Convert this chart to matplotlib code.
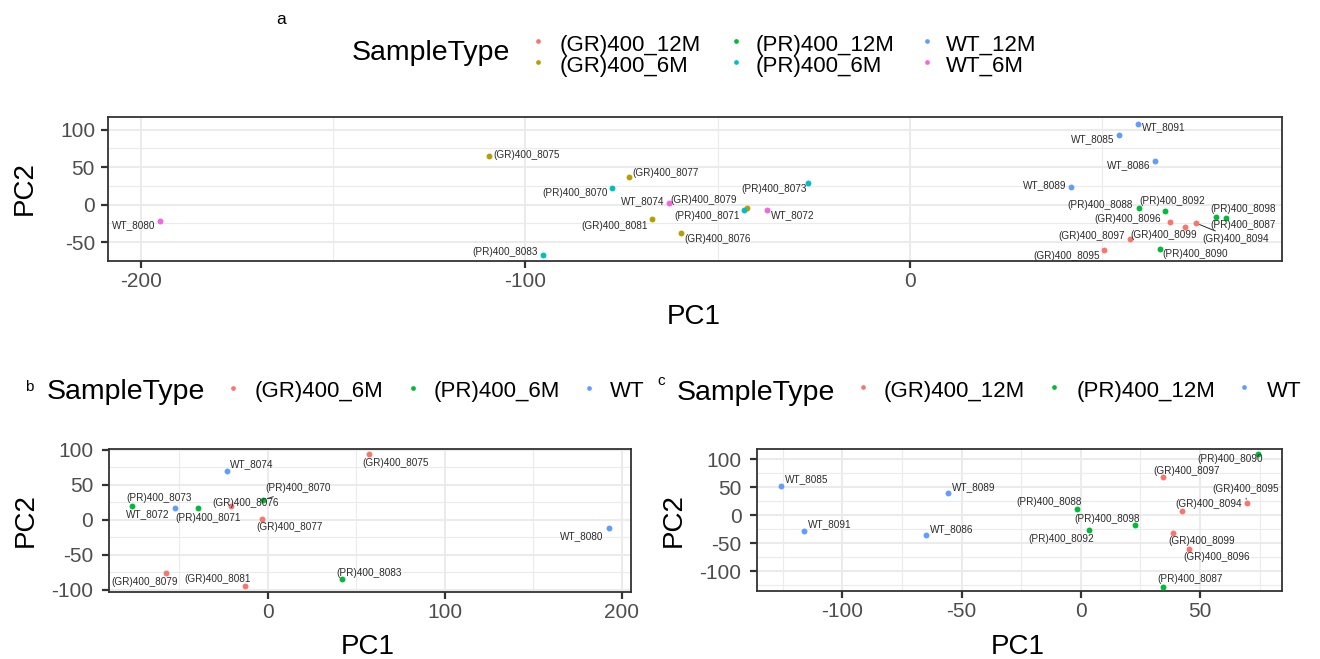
import matplotlib
matplotlib.use('Agg')
import matplotlib.pyplot as plt
from matplotlib.lines import Line2D
from matplotlib.ticker import MultipleLocator

plt.rcParams['font.family'] = ['Liberation Sans', 'DejaVu Sans']
plt.rcParams['axes.unicode_minus'] = False

W, H = 1320, 659

# ---------------- Panel a data ----------------
a_names = ['WT_8080', '(GR)400_8075', '(PR)400_8083', '(PR)400_8070', '(GR)400_8077',
           '(GR)400_8081', 'WT_8074', '(GR)400_8076', '(PR)400_8071', '(GR)400_8079',
           'WT_8072', '(PR)400_8073', 'WT_8091', 'WT_8085', 'WT_8086', 'WT_8089',
           '(PR)400_8088', '(PR)400_8092', '(PR)400_8098', '(PR)400_8087',
           '(GR)400_8096', '(GR)400_8099', '(GR)400_8094', '(GR)400_8097',
           '(GR)400_8095', '(PR)400_8090']
a_pc1 = [-194.9, -109.5, -95.5, -77.4, -73.1, -67.0, -62.6, -59.4, -43.1, -42.4,
         -37.2, -26.6, 59.3, 54.4, 63.8, 42.0, 59.5, 66.4, 79.5, 82.1,
         67.5, 71.6, 74.3, 57.1, 50.4, 64.9]
a_pc2 = [-21.3, 65.0, -67.5, 22.3, 36.9, -19.5, 2.3, -37.7, -7.0, -4.0,
         -7.0, 28.9, 107.6, 92.9, 57.8, 23.2, -4.4, -8.4, -16.0, -18.2,
         -23.1, -29.3, -24.4, -45.7, -60.4, -59.0]
a_group = ['WT_6M', '(GR)400_6M', '(PR)400_6M', '(PR)400_6M', '(GR)400_6M',
           '(GR)400_6M', 'WT_6M', '(GR)400_6M', '(PR)400_6M', '(GR)400_6M',
           'WT_6M', '(PR)400_6M', 'WT_12M', 'WT_12M', 'WT_12M', 'WT_12M',
           '(PR)400_12M', '(PR)400_12M', '(PR)400_12M', '(PR)400_12M',
           '(GR)400_12M', '(GR)400_12M', '(GR)400_12M', '(GR)400_12M',
           '(GR)400_12M', '(PR)400_12M']
a_levels = ['(GR)400_12M', '(GR)400_6M', '(PR)400_12M', '(PR)400_6M', 'WT_12M', 'WT_6M']
a_colors = ['#F8766D', '#B79F00', '#00BA38', '#00BFC4', '#619CFF', '#F564E3']
a_xticks = [-200, -100, 0]
a_yticks = [-50, 0, 50, 100]

# ---------------- Panel b data ----------------
b_names = ['(GR)400_8075', 'WT_8074', '(PR)400_8070', '(PR)400_8073', 'WT_8072',
           '(PR)400_8071', '(GR)400_8076', '(GR)400_8077', 'WT_8080',
           '(GR)400_8079', '(GR)400_8081', '(PR)400_8083']
b_pc1 = [57.1, -22.8, -2.4, -76.8, -52.6, -39.2, -20.7, -3.3, 192.6, -57.5, -12.8, 41.8]
b_pc2 = [93.6, 70.2, 28.3, 19.7, 16.0, 16.0, 20.2, 0.7, -11.7, -76.4, -95.5, -85.5]
b_group = ['(GR)400_6M', 'WT', '(PR)400_6M', '(PR)400_6M', 'WT', '(PR)400_6M',
           '(GR)400_6M', '(GR)400_6M', 'WT', '(GR)400_6M', '(GR)400_6M', '(PR)400_6M']
b_levels = ['(GR)400_6M', '(PR)400_6M', 'WT']
b_colors = ['#F8766D', '#00BA38', '#619CFF']
b_xticks = [0, 100, 200]
b_yticks = [-100, -50, 0, 50, 100]

# ---------------- Panel c data ----------------
c_names = ['WT_8085', 'WT_8089', 'WT_8091', 'WT_8086', '(PR)400_8088', '(PR)400_8092',
           '(PR)400_8098', '(PR)400_8090', '(GR)400_8097', '(GR)400_8095',
           '(GR)400_8094', '(GR)400_8099', '(GR)400_8096', '(PR)400_8087']
c_pc1 = [-125.8, -55.9, -116.1, -64.9, -1.4, 3.6, 22.8, 74.2, 34.6, 69.5, 42.3, 38.7, 45.3, 34.6]
c_pc2 = [52.3, 39.3, -28.0, -35.7, 11.3, -26.8, -17.9, 108.9, 67.9, 20.8, 7.7, -31.6, -60.7, -128.0]
c_group = ['WT', 'WT', 'WT', 'WT', '(PR)400_12M', '(PR)400_12M', '(PR)400_12M',
           '(PR)400_12M', '(GR)400_12M', '(GR)400_12M', '(GR)400_12M',
           '(GR)400_12M', '(GR)400_12M', '(PR)400_12M']
c_levels = ['(GR)400_12M', '(PR)400_12M', 'WT']
c_colors = ['#F8766D', '#00BA38', '#619CFF']
c_xticks = [-100, -50, 0, 50]
c_yticks = [-100, -50, 0, 50, 100]

# ---------------- layout / style (pixels) ----------------
a_offsets = {
    'WT_8080': (-26.7, 4.3), '(GR)400_8075': (37.5, -1), '(PR)400_8083': (-37, -3),
    '(PR)400_8070': (-37.4, 4.7), '(GR)400_8077': (37, -3.7), '(GR)400_8081': (-37.9, 6.4),
    'WT_8074': (-26, -2.3), '(GR)400_8076': (36, 5.7), '(PR)400_8071': (-37.3, 6),
    '(GR)400_8079': (-42.9, -7.7), 'WT_8072': (25.6, 5.3), '(PR)400_8073': (-33.9, 5.7),
    'WT_8091': (25.7, 3.3), 'WT_8085': (-26.7, 4), 'WT_8086': (-27, 4), 'WT_8089': (-26.7, -2.6),
    '(PR)400_8088': (-38.8, -3.3), '(PR)400_8092': (6.8, -10.3), '(PR)400_8098': (27, -7.4),
    '(PR)400_8087': (17, 6.7), '(GR)400_8096': (-41.5, -2.7), '(GR)400_8097': (-37.8, -2.7),
    '(GR)400_8099': (-21.2, 8.3), '(GR)400_8094': (40, 16.3), '(GR)400_8095': (-37.2, 6),
    '(PR)400_8090': (35.8, 5.3)}
a_segments = ['(GR)400_8094']
b_offsets = {
    '(GR)400_8075': (27.1, 9.3), 'WT_8074': (24.8, -6), '(PR)400_8070': (35.1, -11.4),
    '(PR)400_8073': (27.6, -7.4), 'WT_8072': (-27, 6), '(PR)400_8071': (9.7, 9.4),
    '(GR)400_8076': (14.5, -2.6), '(GR)400_8077': (27.6, 8.3), 'WT_8080': (-26.7, 8),
    '(GR)400_8079': (-21.6, 8.7), '(GR)400_8081': (-27.7, -7.3), '(PR)400_8083': (27.5, -6.6)}
b_segments = ['(PR)400_8070']
c_offsets = {
    'WT_8085': (25.6, -6.7), 'WT_8089': (26.1, -6.3), 'WT_8091': (26.1, -6.7),
    'WT_8086': (26, -6), '(PR)400_8088': (-28.5, -6.4), '(PR)400_8092': (-27.8, 9),
    '(PR)400_8098': (-28.1, -6.3), '(PR)400_8090': (-27.1, 5.3), '(GR)400_8097': (23.1, -6),
    '(GR)400_8095': (-1.3, -14.3), '(GR)400_8094': (27.2, -6.4), '(GR)400_8099': (28.2, 8.3),
    '(GR)400_8096': (28.2, 8.3), '(PR)400_8087': (27, -7.4)}
c_segments = ['(GR)400_8095']

TICK_COLOR = '#4D4D4D'
LINE_COLOR = '#333333'
LABEL_COLOR = '#2B2B2B'

fig = plt.figure(figsize=(W / 100, H / 100), dpi=100)


def rect(l, t, r, b):
    return [l / W, 1 - b / H, (r - l) / W, (b - t) / H]


def fx(px):
    return px / W


def fy(py):
    return 1 - py / H


def draw_panel(ax, names, pc1, pc2, group, levels, colors, offsets, segments,
               xlim, ylim, xticks, yticks, xlab_pos, ylab_pos, ypad):
    cmap = dict(zip(levels, colors))
    for lev in levels:
        xs = [x for x, g in zip(pc1, group) if g == lev]
        ys = [y for y, g in zip(pc2, group) if g == lev]
        ax.scatter(xs, ys, s=18, color=cmap[lev], linewidths=0, zorder=3)
    for n, x, y in zip(names, pc1, pc2):
        dx, dy = offsets[n]
        kw = {}
        if n in segments:
            kw['arrowprops'] = dict(arrowstyle='-', color=LABEL_COLOR, lw=0.7,
                                    shrinkA=1, shrinkB=3)
        ax.annotate(n, (x, y), xytext=(dx, -dy), textcoords='offset pixels',
                    ha='center', va='center', fontsize=7.2, color=LABEL_COLOR,
                    zorder=4, **kw)
    ax.set_xlim(*xlim)
    ax.set_ylim(*ylim)
    ax.set_xticks(xticks)
    ax.set_yticks(yticks)
    dxm = (xticks[1] - xticks[0]) / 2
    dym = (yticks[1] - yticks[0]) / 2
    ax.xaxis.set_minor_locator(MultipleLocator(dxm, offset=dxm))
    ax.yaxis.set_minor_locator(MultipleLocator(dym, offset=dym))
    ax.grid(which='major', color='#EBEBEB', lw=1.5, zorder=0)
    ax.grid(which='minor', color='#EBEBEB', lw=0.8, zorder=0)
    ax.set_axisbelow(True)
    for sp in ax.spines.values():
        sp.set_color(LINE_COLOR)
        sp.set_linewidth(1.3)
    ax.tick_params(which='major', length=5, width=1.6, color=LINE_COLOR,
                   labelsize=15, labelcolor=TICK_COLOR)
    ax.tick_params(axis='x', which='major', pad=3)
    ax.tick_params(axis='y', which='major', pad=ypad)
    ax.tick_params(which='minor', length=0)
    ax.set_xlabel('PC1', fontsize=20, color='black', va='center')
    ax.set_ylabel('PC2', fontsize=20, color='black', va='center', ha='center')
    ax.xaxis.set_label_coords(*xlab_pos)
    ax.yaxis.set_label_coords(*ylab_pos)


def draw_legend(title_x, title_base, levels, colors, dot_xs, dot_ys, text_xs, text_bases):
    fig.text(fx(title_x), fy(title_base), 'SampleType', fontsize=20.5,
             color='black', ha='left', va='baseline')
    for lev, col, dxp, dyp, txp, tbp in zip(levels, colors, dot_xs, dot_ys, text_xs, text_bases):
        fig.add_artist(Line2D([fx(dxp)], [fy(dyp)], marker='o', markersize=3.4,
                              color=col, markeredgewidth=0, linestyle='none',
                              transform=fig.transFigure))
        fig.text(fx(txp), fy(tbp), lev, fontsize=16, color='black',
                 ha='left', va='baseline')


# Panel a
ax_a = fig.add_axes(rect(107.5, 117.3, 1281.5, 260.7))
draw_panel(ax_a, a_names, a_pc1, a_pc2, a_group, a_levels, a_colors, a_offsets, a_segments,
           (-208.6, 96.6), (-74.7, 116.5), a_xticks, a_yticks, (0.4993, -0.39), (-0.0703, 0.507), 4)
draw_legend(352, 60.5, a_levels, a_colors,
            [538, 538, 736, 736, 927, 927], [40.7, 62.3, 40.7, 62.3, 40.7, 62.3],
            [560, 560, 756, 756, 946, 946], [50.5, 72, 50.5, 72, 50.5, 72])
fig.text(fx(281), fy(20), 'a', fontsize=12.5, ha='center', va='center')

# Panel b
ax_b = fig.add_axes(rect(108.6, 449, 631.3, 591.7))
draw_panel(ax_b, b_names, b_pc1, b_pc2, b_group, b_levels, b_colors, b_offsets, b_segments,
           (-89.9, 205.4), (-103, 101), b_xticks, b_yticks, (0.496, -0.385), (-0.159, 0.5), 6)
draw_legend(47, 399, b_levels, b_colors,
            [232.7, 412.5, 589], [388, 388, 388], [254.6, 434, 610], [397, 397, 397])
fig.text(fx(29.5), fy(387), 'b', fontsize=11, ha='center', va='center')

# Panel c
ax_c = fig.add_axes(rect(756.8, 449, 1281.6, 591))
draw_panel(ax_c, c_names, c_pc1, c_pc2, c_group, c_levels, c_colors, c_offsets, c_segments,
           (-135.9, 84.2), (-135.7, 117.9), c_xticks, c_yticks, (0.497, -0.392), (-0.159, 0.5), 6)
draw_legend(676.5, 400, c_levels, c_colors,
            [862.8, 1053.8, 1244], [387.3, 387.3, 387.3], [884, 1076.5, 1266.7], [397, 397, 397])
fig.text(fx(661), fy(381), 'c', fontsize=11, ha='center', va='center')

fig.savefig('out.png', dpi=100)
